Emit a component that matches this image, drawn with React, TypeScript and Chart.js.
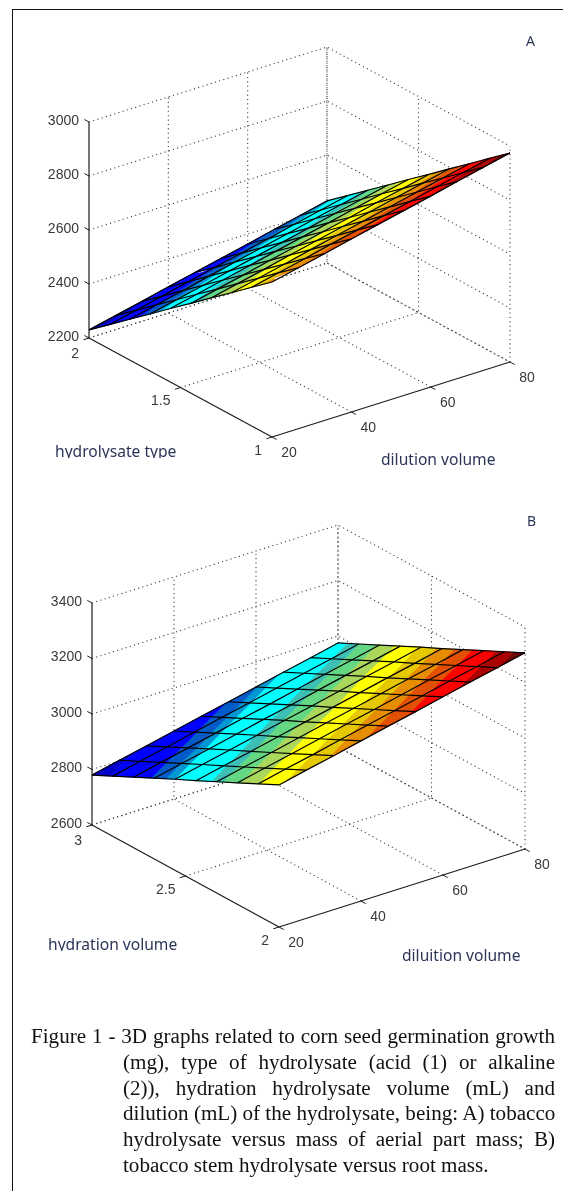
import React, { useEffect, useRef } from "react";
import { Chart, registerables } from "chart.js";

Chart.register(...registerables);

// ---------- data ----------
const dilutionTicks = [20, 40, 60, 80];
const dilutionMesh = [20, 26.67, 33.33, 40, 46.67, 53.33, 60, 66.67, 73.33, 80];

const hydrolysateTicks = [2, 1.5, 1];
const hydrolysateMesh = [2, 1.889, 1.778, 1.667, 1.556, 1.444, 1.333, 1.222, 1.111, 1];
const massTicksA = [2200, 2400, 2600, 2800, 3000];
const surfaceA = [
  [2230, 2252, 2274, 2297, 2319, 2341, 2363, 2386, 2408, 2430],
  [2290, 2312, 2334, 2357, 2379, 2401, 2423, 2446, 2468, 2490],
  [2351, 2373, 2395, 2418, 2440, 2462, 2484, 2507, 2529, 2551],
  [2411, 2433, 2455, 2478, 2500, 2522, 2544, 2567, 2589, 2611],
  [2472, 2494, 2516, 2539, 2561, 2583, 2605, 2628, 2650, 2672],
  [2532, 2554, 2576, 2599, 2621, 2643, 2665, 2688, 2710, 2732],
  [2593, 2615, 2637, 2660, 2682, 2704, 2726, 2749, 2771, 2793],
  [2653, 2675, 2697, 2720, 2742, 2764, 2786, 2809, 2831, 2853],
  [2714, 2736, 2758, 2781, 2803, 2825, 2847, 2870, 2892, 2914],
  [2774, 2796, 2818, 2841, 2863, 2885, 2907, 2930, 2952, 2974],
];

const hydrationTicks = [3, 2.5, 2];
const hydrationMesh = [3, 2.889, 2.778, 2.667, 2.556, 2.444, 2.333, 2.222, 2.111, 2];
const massTicksB = [2600, 2800, 3000, 3200, 3400];
const surfaceB = [
  [2780, 2802, 2823, 2845, 2867, 2888, 2910, 2932, 2953, 2975],
  [2817, 2839, 2860, 2882, 2904, 2925, 2947, 2969, 2990, 3012],
  [2854, 2876, 2897, 2919, 2941, 2962, 2984, 3006, 3027, 3049],
  [2891, 2913, 2934, 2956, 2978, 2999, 3021, 3043, 3064, 3086],
  [2928, 2950, 2971, 2993, 3015, 3036, 3058, 3080, 3101, 3123],
  [2964, 2986, 3007, 3029, 3051, 3072, 3094, 3116, 3137, 3159],
  [3001, 3023, 3044, 3066, 3088, 3109, 3131, 3153, 3174, 3196],
  [3038, 3060, 3081, 3103, 3125, 3146, 3168, 3190, 3211, 3233],
  [3075, 3097, 3118, 3140, 3162, 3183, 3205, 3227, 3248, 3270],
  [3112, 3134, 3155, 3177, 3199, 3220, 3242, 3264, 3285, 3307],
];

const captionLines = [
  "Figure 1 - 3D graphs related to corn seed germination growth",
  "(mg), type of hydrolysate (acid (1) or alkaline",
  "(2)), hydration hydrolysate volume (mL) and",
  "dilution (mL) of the hydrolysate, being: A) tobacco",
  "hydrolysate versus mass of aerial part mass; B)",
  "tobacco stem hydrolysate versus root mass.",
];

// colour bands of the surface: upper limit of the band (fraction of the z range), colour
const bandLimits = [0.06, 0.2, 0.25, 0.28, 0.4, 0.44, 0.5, 0.56, 0.64, 0.7, 0.76, 0.82, 0.9, 0.96, 1];
const bandColors = [
  "rgb(0,0,200)", "rgb(0,0,255)", "rgb(0,90,200)", "rgb(0,150,210)", "rgb(0,255,255)",
  "rgb(60,190,180)", "rgb(100,215,130)", "rgb(170,215,90)", "rgb(255,255,0)", "rgb(230,200,0)",
  "rgb(230,140,0)", "rgb(225,80,0)", "rgb(255,0,0)", "rgb(170,0,0)", "rgb(110,0,0)",
];

type V3 = { d: number; h: number; z: number };
type PlotCfg = {
  top: number;
  height: number;
  hydTicks: number[];
  hydMesh: number[];
  zTicks: number[];
  surface: number[][];
  // pixel frame of the box
  origin: [number, number]; // dil=min, hyd=first, z=min
  hydVec: [number, number];
  dilVec: [number, number];
  zHeight: number;
};

const plotA: PlotCfg = {
  top: 0, height: 490, hydTicks: hydrolysateTicks, hydMesh: hydrolysateMesh, zTicks: massTicksA,
  surface: surfaceA, origin: [89, 338], hydVec: [183, 99], dilVec: [238, -75], zHeight: 216,
};
const plotB: PlotCfg = {
  top: 490, height: 510, hydTicks: hydrationTicks, hydMesh: hydrationMesh, zTicks: massTicksB,
  surface: surfaceB, origin: [92, 335], hydVec: [187, 102], dilVec: [246, -78], zHeight: 222,
};

function makeProject(p: PlotCfg) {
  const dMin = dilutionTicks[0];
  const dMax = dilutionTicks[dilutionTicks.length - 1];
  const hA = p.hydTicks[0];
  const hB = p.hydTicks[p.hydTicks.length - 1];
  const zA = p.zTicks[0];
  const zB = p.zTicks[p.zTicks.length - 1];
  return (v: V3) => {
    const fd = (v.d - dMin) / (dMax - dMin);
    const fh = (v.h - hA) / (hB - hA);
    const fz = (v.z - zA) / (zB - zA);
    return {
      x: p.origin[0] + fh * p.hydVec[0] + fd * p.dilVec[0],
      y: p.origin[1] + fh * p.hydVec[1] + fd * p.dilVec[1] - fz * p.zHeight,
    };
  };
}

function clipZ(poly: V3[], limit: number, keepBelow: boolean): V3[] {
  const out: V3[] = [];
  for (let i = 0; i < poly.length; i++) {
    const a = poly[i];
    const b = poly[(i + 1) % poly.length];
    const ina = keepBelow ? a.z <= limit : a.z >= limit;
    const inb = keepBelow ? b.z <= limit : b.z >= limit;
    if (ina) out.push(a);
    if (ina !== inb) {
      const t = (limit - a.z) / (b.z - a.z);
      out.push({ d: a.d + t * (b.d - a.d), h: a.h + t * (b.h - a.h), z: limit });
    }
  }
  return out;
}

function buildDatasets(p: PlotCfg) {
  const project = makeProject(p);
  const ds: any[] = [];
  const line = (pts: V3[], color: string, width: number, dash: number[], order: number) =>
    ds.push({
      data: pts.map(project), showLine: true, borderColor: color, borderWidth: width,
      borderDash: dash, pointRadius: 0, fill: false, order, tension: 0,
    });

  const dMin = dilutionTicks[0];
  const dMax = dilutionTicks[dilutionTicks.length - 1];
  const hFront = p.hydTicks[p.hydTicks.length - 1];
  const hBack = p.hydTicks[0];
  const zMin = p.zTicks[0];
  const zMax = p.zTicks[p.zTicks.length - 1];
  const dot = [1.1, 3.3];
  const gridColor = "#383838";

  // walls and floor grid
  for (const z of p.zTicks) {
    line([{ d: dMin, h: hBack, z }, { d: dMax, h: hBack, z }, { d: dMax, h: hFront, z }], gridColor, 1.1, dot, 5);
  }
  for (const d of dilutionTicks.slice(1)) {
    line([{ d, h: hFront, z: zMin }, { d, h: hBack, z: zMin }, { d, h: hBack, z: zMax }], gridColor, 1.1, dot, 5);
  }
  for (const h of p.hydTicks.slice(0, -1)) {
    line([{ d: dMin, h, z: zMin }, { d: dMax, h, z: zMin }, { d: dMax, h, z: zMax }], gridColor, 1.1, dot, 5);
  }
  line([{ d: dMax, h: hFront, z: zMin }, { d: dMax, h: hFront, z: zMax }], gridColor, 1.1, dot, 5);

  // surface colour bands
  const S = p.surface;
  const all = S.flat();
  const sMin = Math.min(...all);
  const sMax = Math.max(...all);
  const limit = (f: number) => sMin + f * (sMax - sMin);
  for (let i = 0; i < S.length - 1; i++) {
    for (let j = 0; j < S[i].length - 1; j++) {
      const c = (a: number, b: number): V3 => ({ d: dilutionMesh[b], h: p.hydMesh[a], z: S[a][b] });
      const tris = [
        [c(i, j), c(i, j + 1), c(i + 1, j + 1)],
        [c(i, j), c(i + 1, j + 1), c(i + 1, j)],
      ];
      for (const tri of tris) {
        bandLimits.forEach((hi, b) => {
          const lo = b === 0 ? 0 : bandLimits[b - 1];
          let poly = clipZ(tri, limit(hi), true);
          if (poly.length) poly = clipZ(poly, limit(lo), false);
          if (poly.length < 3) return;
          const pts = poly.map(project);
          pts.push(pts[0]);
          ds.push({
            data: pts, showLine: true, fill: "shape", backgroundColor: bandColors[b],
            borderColor: bandColors[b], borderWidth: 0.7, pointRadius: 0, order: 3, tension: 0,
          });
        });
      }
    }
  }

  // mesh
  S.forEach((row, i) => {
    line(row.map((z, j) => ({ d: dilutionMesh[j], h: p.hydMesh[i], z })), "#000", 1.2, [], 2);
  });
  dilutionMesh.forEach((d, j) => {
    line(S.map((row, i) => ({ d, h: p.hydMesh[i], z: row[j] })), "#000", 1.2, [], 2);
  });

  // axes and tick marks
  const axis = "#1c1c1c";
  line([{ d: dMin, h: hBack, z: zMin }, { d: dMin, h: hBack, z: zMax }], axis, 1.2, [], 1);
  line([{ d: dMin, h: hBack, z: zMin }, { d: dMin, h: hFront, z: zMin }], axis, 1.2, [], 1);
  line([{ d: dMin, h: hFront, z: zMin }, { d: dMax, h: hFront, z: zMin }], axis, 1.2, [], 1);
  const hSpan = hBack - hFront;
  for (const z of p.zTicks) {
    line([{ d: dMin, h: hBack, z }, { d: dMin, h: hBack + hSpan * 0.025, z }], axis, 1, [], 1);
  }
  for (const h of p.hydTicks) {
    line([{ d: dMin, h, z: zMin }, { d: dMin - 1.4, h, z: zMin }], axis, 1, [], 1);
  }
  for (const d of dilutionTicks) {
    line([{ d, h: hFront, z: zMin }, { d, h: hFront - hSpan * 0.025, z: zMin }], axis, 1, [], 1);
  }
  return ds;
}

function tickTextPlugin(p: PlotCfg) {
  const project = makeProject(p);
  const dMin = dilutionTicks[0];
  const hFront = p.hydTicks[p.hydTicks.length - 1];
  const hBack = p.hydTicks[0];
  const zMin = p.zTicks[0];
  return {
    id: "tickText",
    afterDatasetsDraw(chart: any) {
      const { ctx, scales } = chart;
      const px = (v: V3) => {
        const q = project(v);
        return { x: scales.x.getPixelForValue(q.x), y: scales.y.getPixelForValue(q.y) };
      };
      ctx.save();
      ctx.font = '14px "Liberation Sans"';
      ctx.fillStyle = "#3a3a3a";
      ctx.textBaseline = "middle";
      ctx.textAlign = "right";
      for (const z of p.zTicks) {
        const q = px({ d: dMin, h: hBack, z });
        ctx.fillText(String(z), q.x - 10, q.y - 1);
      }
      for (const h of p.hydTicks) {
        const q = px({ d: dMin, h, z: zMin });
        ctx.fillText(String(h), q.x - 10, q.y + (h === hBack ? 16 : 14));
      }
      ctx.textAlign = "center";
      for (const d of dilutionTicks) {
        const q = px({ d, h: hFront, z: zMin });
        ctx.fillText(String(d), q.x + 17, q.y + 16);
      }
      ctx.restore();
    },
  };
}

function Plot({ cfg }: { cfg: PlotCfg }) {
  const ref = useRef<HTMLCanvasElement>(null);
  useEffect(() => {
    const chart = new Chart(ref.current!, {
      type: "scatter",
      data: { datasets: buildDatasets(cfg) },
      options: {
        animation: false,
        responsive: false,
        events: [],
        clip: false,
        layout: { padding: 0 },
        plugins: { legend: { display: false }, tooltip: { enabled: false } },
        scales: {
          x: { type: "linear", display: false, min: 0, max: 563 },
          y: { type: "linear", display: false, min: 0, max: cfg.height, reverse: true },
        },
      } as any,
      plugins: [tickTextPlugin(cfg)],
    });
    return () => chart.destroy();
  }, [cfg]);
  return (
    <canvas
      ref={ref}
      width={563}
      height={cfg.height}
      style={{ position: "absolute", left: 0, top: cfg.top, width: 563, height: cfg.height, filter: "blur(0.45px)" }}
    />
  );
}

const titleBase: React.CSSProperties = {
  position: "absolute",
  font: '15.6px "Noto Sans", sans-serif',
  color: "#2b3558",
  whiteSpace: "nowrap",
  overflow: "hidden",
  lineHeight: "18px",
  height: 18,
  filter: "blur(0.35px)",
};
const letterStyle: React.CSSProperties = { ...titleBase, fontSize: 14 };

export default function App() {
  useEffect(() => {
    document.body.style.margin = "0";
  }, []);
  return (
    <div style={{ position: "relative", width: 563, height: 1191, overflow: "hidden", background: "#fff" }}>
      <Plot cfg={plotA} />
      <Plot cfg={plotB} />
      <div style={{ position: "absolute", left: 12, top: 9, width: 551, height: 1182, borderLeft: "1px solid #111", borderTop: "1px solid #111", boxSizing: "border-box" }} />
      <div style={{ ...titleBase, left: 55, top: 442, height: 16 }}>hydrolysate type</div>
      <div style={{ ...titleBase, left: 381, top: 450 }}>dilution volume</div>
      <div style={{ ...titleBase, left: 48, top: 935, height: 16 }}>hydration volume</div>
      <div style={{ ...titleBase, left: 402, top: 946 }}>diluition volume</div>
      <div style={{ ...letterStyle, left: 526, top: 32 }}>A</div>
      <div style={{ ...letterStyle, left: 527, top: 512 }}>B</div>
      <div style={{ position: "absolute", left: 31, top: 1024, width: 524, font: '21.1px "Liberation Serif", serif', lineHeight: "25.8px", color: "#111", filter: "blur(0.3px)" }}>
        {captionLines.map((t, i) => (
          <div
            key={i}
            style={{
              paddingLeft: i === 0 ? 0 : 92,
              textAlign: i === captionLines.length - 1 ? "left" : "justify",
              textAlignLast: i === captionLines.length - 1 ? "left" : "justify",
              whiteSpace: "nowrap",
            }}
          >
            {t}
          </div>
        ))}
      </div>
    </div>
  );
}
